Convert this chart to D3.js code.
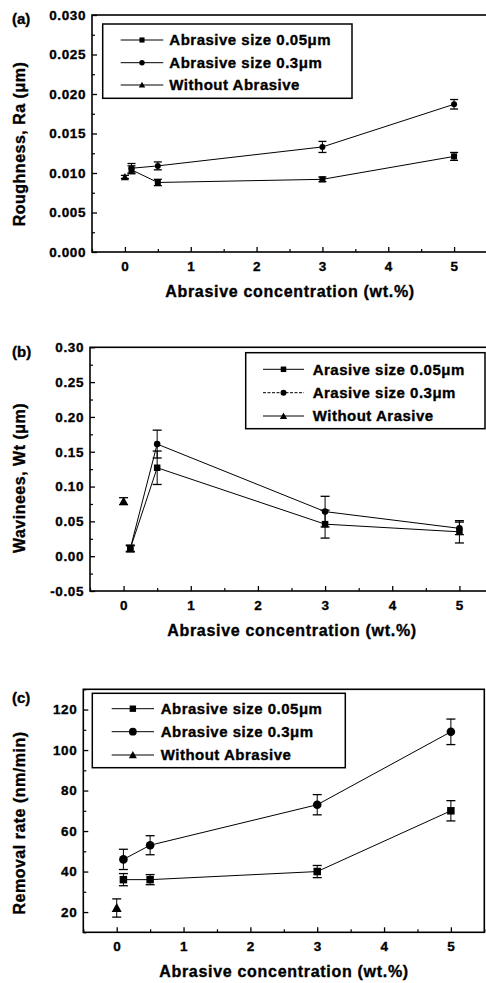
<!DOCTYPE html>
<html><head><meta charset="utf-8">
<script src="https://cdn.jsdelivr.net/npm/d3@7"></script>
<style>
body{margin:0;background:#fff}
svg{display:block}
text{font-family:"Liberation Sans",Arial,Helvetica,sans-serif;font-weight:bold;fill:#000;stroke:#000;stroke-width:0.35px}
</style>
</head><body>
<svg id="chart" width="486" height="983"></svg>
<script>
// ---------------- DATA ----------------
const concentration = [0.1, 0.5, 3, 5];   // wt.%
const noAbrasiveX = [0];

// (a) Roughness Ra (um)
const raSmall = [0.0104, 0.0088, 0.0092, 0.0121];
const raSmallErr = [0.0005, 0.0004, 0.0003, 0.0005];
const raLarge = [0.0106, 0.0109, 0.0133, 0.0187];
const raLargeErr = [0.0006, 0.0005, 0.0007, 0.0006];
const raNone = [0.0095];
const raNoneErr = [0.0002];

// (b) Waviness Wt (um)
const wtSmall = [0.011, 0.127, 0.046, 0.035];
const wtSmallErr = [0.005, 0.024, 0.020, 0.016];
const wtLarge = [0.011, 0.161, 0.064, 0.040];
const wtLargeErr = [0.004, 0.020, 0.022, 0.009];
const wtNone = [0.079];
const wtNoneErr = [0.005];

// (c) Removal rate (nm/min)
const rrSmall = [36, 36, 40, 70];
const rrSmallErr = [3, 2.5, 3, 5];
const rrLarge = [46, 53, 73, 109];
const rrLargeErr = [5, 4.7, 5, 6.3];
const rrNone = [22];
const rrNoneErr = [4.5];

// ticks
const xTicks = [0, 1, 2, 3, 4, 5];
const xTickLabels = ["0", "1", "2", "3", "4", "5"];
const xMinor = [-0.5, 0.5, 1.5, 2.5, 3.5, 4.5, 5.5];
const raTicks = [0, 0.005, 0.010, 0.015, 0.020, 0.025, 0.030];
const raTickLabels = ["0.000", "0.005", "0.010", "0.015", "0.020", "0.025", "0.030"];
const raMinor = [0.0025, 0.0075, 0.0125, 0.0175, 0.0225, 0.0275];
const wtTicks = [-0.05, 0, 0.05, 0.10, 0.15, 0.20, 0.25, 0.30];
const wtTickLabels = ["-0.05", "0.00", "0.05", "0.10", "0.15", "0.20", "0.25", "0.30"];
const wtMinor = [-0.025, 0.025, 0.075, 0.125, 0.175, 0.225, 0.275];
const rrTicks = [20, 40, 60, 80, 100, 120];
const rrTickLabels = ["20", "40", "60", "80", "100", "120"];
const rrMinor = [10, 30, 50, 70, 90, 110, 130];

const legendA = ["Abrasive size 0.05\u03bcm", "Abrasive size 0.3\u03bcm", "Without Abrasive"];
const legendB = ["Arasive size 0.05\u03bcm", "Arasive size 0.3\u03bcm", "Without Arasive"];
const legendC = ["Abrasive size 0.05\u03bcm", "Abrasive size 0.3\u03bcm", "Without Abrasive"];

// ---------------- LAYOUT ----------------
const panels = [
  {label:"(a)", labelY:24, left:92, right:487, top:15, bottom:252,
   yDomain:[0,0.03], yTicks:raTicks, yLabels:raTickLabels, yMinor:raMinor,
   yTitle:"Roughness, Ra (\u03bcm)", yTitleY:144, xTitleX:290,
   small:raSmall, smallErr:raSmallErr, large:raLarge, largeErr:raLargeErr, none:raNone, noneErr:raNoneErr,
   legend:legendA, lg:{x0:102.7, x1:352, y0:24, y1:98.3, rows:[40,62.7,85], lx0:120.7, lx1:163.3, tx:169.3},
   sq:6, cr:3, tri:4, cap:4, dash:null},
  {label:"(b)", labelY:357, left:90, right:493, top:347.3, bottom:591,
   yDomain:[-0.05,0.30], yTicks:wtTicks, yLabels:wtTickLabels, yMinor:wtMinor,
   yTitle:"Wavinees, Wt (\u03bcm)", yTitleY:478, xTitleX:292,
   small:wtSmall, smallErr:wtSmallErr, large:wtLarge, largeErr:wtLargeErr, none:wtNone, noneErr:wtNoneErr,
   legend:legendB, lg:{x0:245.7, x1:485, y0:352.7, y1:428.7, rows:[369.3,392.7,416], lx0:263, lx1:304, tx:312.7},
   sq:6.5, cr:3.3, tri:4.5, cap:4.5, dash:"3,1.5"},
  {label:"(c)", labelY:703, left:83.3, right:484.3, top:689.3, bottom:932.3,
   yDomain:[10,130], yTicks:rrTicks, yLabels:rrTickLabels, yMinor:rrMinor,
   yTitle:"Removal rate (nm/min)", yTitleY:823, xTitleX:284,
   small:rrSmall, smallErr:rrSmallErr, large:rrLarge, largeErr:rrLargeErr, none:rrNone, noneErr:rrNoneErr,
   legend:legendC, lg:{x0:92.3, x1:345.3, y0:693.3, y1:767.7, rows:[708.7,731.7,755], lx0:111.7, lx1:154, tx:160.7},
   sq:7.5, cr:4.3, tri:5, cap:4.5, dash:null}
];

const svg = d3.select("#chart");

function marker(g, type, cx, cy, p) {
  if (type === "square") {
    g.append("rect").attr("x", cx - p.sq/2).attr("y", cy - p.sq/2)
      .attr("width", p.sq).attr("height", p.sq).attr("fill", "#000");
  } else if (type === "circle") {
    g.append("circle").attr("cx", cx).attr("cy", cy).attr("r", p.cr).attr("fill", "#000");
  } else {
    const s = p.tri;
    g.append("path").attr("d", `M${cx},${cy - s}L${cx + s},${cy + s*0.8}L${cx - s},${cy + s*0.8}Z`).attr("fill", "#000");
  }
}

function drawPanel(p) {
  const g = svg.append("g");
  const x = d3.scaleLinear().domain([-0.5, 5.5]).range([p.left, p.right]);
  const y = d3.scaleLinear().domain(p.yDomain).range([p.bottom, p.top]);

  // minor ticks
  g.append("g").attr("transform", `translate(0,${p.bottom})`)
    .call(d3.axisBottom(x).tickValues(xMinor).tickSize(-3).tickFormat(""))
    .call(a => a.select(".domain").remove())
    .selectAll("line").attr("stroke-width", 1.2);
  g.append("g").attr("transform", `translate(${p.left},0)`)
    .call(d3.axisLeft(y).tickValues(p.yMinor).tickSize(-3).tickFormat(""))
    .call(a => a.select(".domain").remove())
    .selectAll("line").attr("stroke-width", 1.2);

  // major ticks
  const xa = g.append("g").attr("transform", `translate(0,${p.bottom})`)
    .call(d3.axisBottom(x).tickValues(xTicks).tickSize(-5).tickPadding(9)
      .tickFormat((d, i) => xTickLabels[i]));
  xa.select(".domain").remove();
  xa.selectAll("line").attr("stroke-width", 1.3);
  xa.selectAll("text").attr("font-size", "13.5px").style("letter-spacing", "0.6px")
    .attr("font-family", null);

  const ya = g.append("g").attr("transform", `translate(${p.left},0)`)
    .call(d3.axisLeft(y).tickValues(p.yTicks).tickSize(-5).tickPadding(6)
      .tickFormat((d, i) => p.yLabels[i]));
  ya.select(".domain").remove();
  ya.selectAll("line").attr("stroke-width", 1.3);
  ya.selectAll("text").attr("font-size", "13.5px").style("letter-spacing", "0.6px")
    .attr("font-family", null);

  // frame
  g.append("rect").attr("x", p.left).attr("y", p.top)
    .attr("width", p.right - p.left).attr("height", p.bottom - p.top)
    .attr("fill", "none").attr("stroke", "#000").attr("stroke-width", 1.6);

  // titles
  g.append("text").attr("x", p.xTitleX).attr("y", p.bottom + 45)
    .attr("text-anchor", "middle").attr("font-size", "16px").style("letter-spacing", "0.7px")
    .text("Abrasive concentration (wt.%)");
  g.append("text").attr("transform", `translate(25,${p.yTitleY}) rotate(-90)`)
    .attr("text-anchor", "middle").attr("font-size", "16px").style("letter-spacing", "0.5px")
    .text(p.yTitle);
  g.append("text").attr("x", 12).attr("y", p.labelY).attr("font-size", "15px").text(p.label);

  // series
  const line = d3.line().x(d => x(d[0])).y(d => y(d[1]));
  const series = [
    {type:"square", vals:p.small, err:p.smallErr, xs:concentration},
    {type:"circle", vals:p.large, err:p.largeErr, xs:concentration},
    {type:"triangle", vals:p.none, err:p.noneErr, xs:noAbrasiveX}
  ];
  series.forEach(s => {
    const pts = s.xs.map((xv, i) => [xv, s.vals[i], s.err[i]]);
    if (pts.length > 1) {
      g.append("path").datum(pts).attr("d", line)
        .attr("fill", "none").attr("stroke", "#000").attr("stroke-width", 1);
    }
    pts.forEach(d => {
      const cx = x(d[0]), y1 = y(d[1] + d[2]), y2 = y(d[1] - d[2]);
      g.append("line").attr("x1", cx).attr("x2", cx).attr("y1", y1).attr("y2", y2)
        .attr("stroke", "#000").attr("stroke-width", 1);
      [y1, y2].forEach(yy => g.append("line").attr("x1", cx - p.cap).attr("x2", cx + p.cap)
        .attr("y1", yy).attr("y2", yy).attr("stroke", "#000").attr("stroke-width", 1.3));
      marker(g, s.type, cx, y(d[1]), p);
    });
  });

  // legend
  const L = p.lg;
  g.append("rect").attr("x", L.x0).attr("y", L.y0).attr("width", L.x1 - L.x0).attr("height", L.y1 - L.y0)
    .attr("fill", "#fff").attr("stroke", "#000").attr("stroke-width", 1.5);
  ["square", "circle", "triangle"].forEach((t, i) => {
    const ry = L.rows[i];
    const ln = g.append("line").attr("x1", L.lx0).attr("x2", L.lx1).attr("y1", ry).attr("y2", ry)
      .attr("stroke", "#000").attr("stroke-width", 1);
    if (t === "circle" && p.dash) ln.attr("stroke-dasharray", p.dash);
    marker(g, t, (L.lx0 + L.lx1) / 2, ry, {sq:p.sq*0.85, cr:p.cr*0.9, tri:p.tri*0.8});
    g.append("text").attr("x", L.tx).attr("y", ry + 5.3).attr("font-size", "15px")
      .style("letter-spacing", "0.5px").text(p.legend[i]);
  });
}

panels.forEach(drawPanel);
</script>
</body></html>
